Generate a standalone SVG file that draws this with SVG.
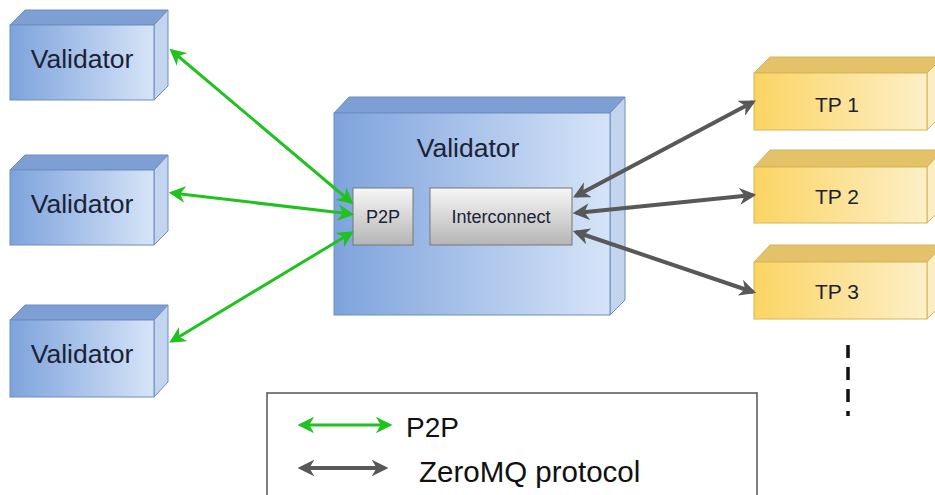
<svg xmlns="http://www.w3.org/2000/svg" width="935" height="495" viewBox="0 0 935 495">
  <defs>
    <linearGradient id="blueFront" x1="0" y1="0" x2="1" y2="0">
      <stop offset="0" stop-color="#7ea3dc"/>
      <stop offset="1" stop-color="#d6e4f8"/>
    </linearGradient>
    <linearGradient id="yellowFront" x1="0" y1="0" x2="1" y2="0">
      <stop offset="0" stop-color="#fbd463"/>
      <stop offset="1" stop-color="#fdf0c8"/>
    </linearGradient>
    <linearGradient id="grayBox" x1="0" y1="0" x2="0" y2="1">
      <stop offset="0" stop-color="#f7f7f7"/>
      <stop offset="1" stop-color="#b5b5b5"/>
    </linearGradient>
    <marker id="arrG" viewBox="0 0 10 10" refX="8" refY="5" markerWidth="5.5" markerHeight="5.5" orient="auto-start-reverse" markerUnits="strokeWidth">
      <path d="M0,0 L10,5 L0,10 L3,5 Z" fill="#1fc21f"/>
    </marker>
    <marker id="arrD" viewBox="0 0 10 10" refX="8" refY="5" markerWidth="4.2" markerHeight="4.2" orient="auto-start-reverse" markerUnits="strokeWidth">
      <path d="M0,0 L10,5 L0,10 L3,5 Z" fill="#585858"/>
    </marker>
  </defs>
  <style>
    .bf { fill: url(#blueFront); stroke: #6c8ebf; stroke-width: 1; }
    .bt { fill: #7e9fd3; stroke: #6c8ebf; stroke-width: 1; }
    .bs { fill: #c3d4ee; stroke: #6c8ebf; stroke-width: 1; }
    .yf { fill: url(#yellowFront); stroke: #d6b656; stroke-width: 1; }
    .yt { fill: #e3c26a; stroke: #d6b656; stroke-width: 1; }
    .ys { fill: #fbeec4; stroke: #d6b656; stroke-width: 1; }
    .gb { fill: url(#grayBox); stroke: #777777; stroke-width: 1; }
    .lbl { font-family: "Liberation Sans", Arial, sans-serif; fill: #1a2236; text-anchor: middle; }
    .leg { font-family: "Liberation Sans", Arial, sans-serif; fill: #111111; }
    .p2p { fill: none; stroke: #1fc21f; stroke-width: 3; marker-start: url(#arrG); marker-end: url(#arrG); }
    .zmq { fill: none; stroke: #585858; stroke-width: 4; marker-start: url(#arrD); marker-end: url(#arrD); }
  </style>

  <!-- peer validators on the left -->
  <g id="validator-1">
    <polygon class="bt" points="10,25 25,10 168,10 154,25"/>
    <polygon class="bs" points="154,25 168,10 168,86 154,100"/>
    <rect class="bf" x="10" y="25" width="144" height="75"/>
    <text class="lbl" x="82" y="68" font-size="26.5">Validator</text>
  </g>
  <g id="validator-2">
    <polygon class="bt" points="10,170 25,155 168,155 154,170"/>
    <polygon class="bs" points="154,170 168,155 168,231 154,245"/>
    <rect class="bf" x="10" y="170" width="144" height="75"/>
    <text class="lbl" x="82" y="213" font-size="26.5">Validator</text>
  </g>
  <g id="validator-3">
    <polygon class="bt" points="10,320 25,305 168,305 154,320"/>
    <polygon class="bs" points="154,320 168,305 168,382 154,397"/>
    <rect class="bf" x="10" y="320" width="144" height="77"/>
    <text class="lbl" x="82" y="363" font-size="26.5">Validator</text>
  </g>

  <!-- local validator with its components -->
  <g id="validator-main">
    <polygon class="bt" points="334,113 349,97 625,97 610,113"/>
    <polygon class="bs" points="610,113 625,97 625,300 610,315"/>
    <rect class="bf" x="334" y="113" width="276" height="202"/>
    <text class="lbl" x="468" y="157" font-size="26.5">Validator</text>
  </g>
  <g id="p2p">
    <rect class="gb" x="353" y="188" width="60" height="57"/>
    <text class="lbl" x="383" y="223" font-size="18">P2P</text>
  </g>
  <g id="interconnect">
    <rect class="gb" x="430" y="188" width="142" height="57"/>
    <text class="lbl" x="501" y="223" font-size="18">Interconnect</text>
  </g>

  <!-- transaction processors -->
  <g id="tp-1">
    <polygon class="yt" points="754,73 770,57 943,57 927,73"/>
    <polygon class="ys" points="927,73 943,57 943,114 927,130"/>
    <rect class="yf" x="754" y="73" width="173" height="57"/>
    <text class="lbl" x="837" y="112" font-size="21">TP 1</text>
  </g>
  <g id="tp-2">
    <polygon class="yt" points="754,167 770,150 943,150 927,167"/>
    <polygon class="ys" points="927,167 943,150 943,207 927,223"/>
    <rect class="yf" x="754" y="167" width="173" height="56"/>
    <text class="lbl" x="837" y="204" font-size="21">TP 2</text>
  </g>
  <g id="tp-3">
    <polygon class="yt" points="754,262 770,245 943,245 927,262"/>
    <polygon class="ys" points="927,262 943,245 943,303 927,319"/>
    <rect class="yf" x="754" y="262" width="173" height="57"/>
    <text class="lbl" x="837" y="299" font-size="21">TP 3</text>
  </g>

  <!-- connectors -->
  <g id="connectors">
    <line class="p2p" x1="172" y1="51" x2="351" y2="202"/>
    <line class="p2p" x1="172" y1="193" x2="351" y2="214"/>
    <line class="p2p" x1="172" y1="341" x2="351" y2="233"/>
    <line class="zmq" x1="576" y1="196" x2="753" y2="102"/>
    <line class="zmq" x1="576" y1="213" x2="753" y2="195"/>
    <line class="zmq" x1="576" y1="232" x2="753" y2="292"/>
    <line x1="848" y1="345" x2="848" y2="416" stroke="#111111" stroke-width="3.5" stroke-dasharray="13,9"/>
  </g>

  <!-- legend -->
  <g id="legend">
    <rect x="267" y="393" width="490" height="110" fill="#ffffff" stroke="#555555" stroke-width="1.5"/>
    <line class="p2p" x1="301" y1="425" x2="389" y2="425"/>
    <text class="leg" x="406" y="437" font-size="28">P2P</text>
    <line class="zmq" x1="301" y1="468" x2="385" y2="468"/>
    <text class="leg" x="419" y="482" font-size="29.5">ZeroMQ protocol</text>
  </g>
</svg>
